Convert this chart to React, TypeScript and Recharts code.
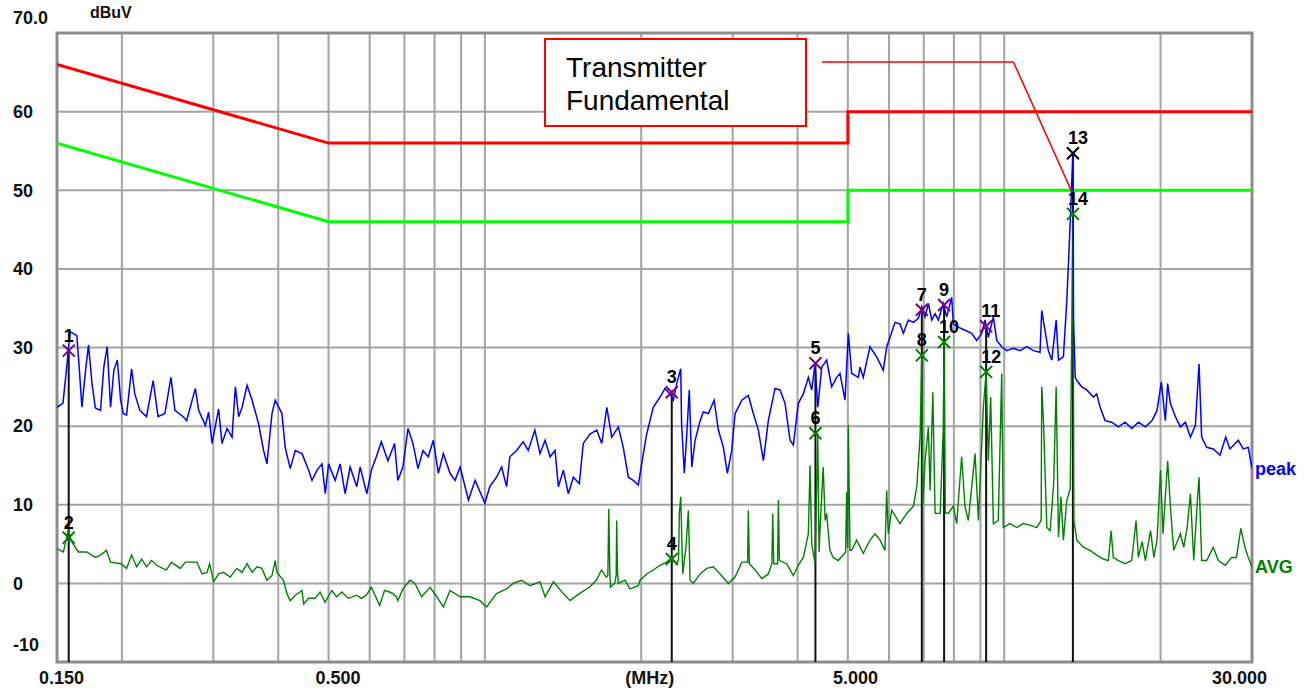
import { ComposedChart, Line, Scatter, XAxis, YAxis, CartesianGrid, ReferenceLine, ReferenceArea } from 'recharts';

// frequency (MHz), level (dBuV)
const peakTrace: [number, number][] = [
  [0.150, 22.4], [0.154, 22.9], [0.1566, 27.5], [0.1589, 32.0], [0.1611, 31.8], [0.1638, 31.5], [0.1655, 27.5],
  [0.1675, 22.4], [0.1705, 27.5], [0.1725, 30.3], [0.1752, 25.4], [0.1778, 22.3], [0.1819, 22.0], [0.1846, 27.5],
  [0.1874, 30.1], [0.1902, 22.4], [0.193, 27.1], [0.196, 28.4], [0.1989, 23.3], [0.2012, 21.6], [0.2042, 21.4],
  [0.2088, 27.3], [0.2118, 24.1], [0.2166, 22.0], [0.2231, 21.2], [0.2297, 25.8], [0.2348, 21.2], [0.242, 21.6],
  [0.2486, 26.2], [0.253, 22.0], [0.2625, 21.2], [0.2665, 20.7], [0.277, 24.8], [0.2811, 22.0], [0.2896, 20.1],
  [0.2938, 21.8], [0.2983, 17.8], [0.3071, 22.2], [0.3117, 17.8], [0.3188, 19.7], [0.3259, 18.6], [0.3308, 25.0],
  [0.3357, 21.2], [0.3408, 22.4], [0.3484, 25.2], [0.3563, 23.3], [0.3666, 20.3], [0.3749, 16.9], [0.3805, 15.2],
  [0.3891, 21.6], [0.3947, 23.3], [0.4066, 21.6], [0.4126, 17.3], [0.4219, 14.6], [0.4314, 16.9], [0.4445, 16.5],
  [0.4578, 14.4], [0.4647, 13.1], [0.4751, 14.4], [0.4857, 15.2], [0.4928, 11.4], [0.5, 15.2], [0.5148, 13.1],
  [0.5264, 15.2], [0.5381, 11.4], [0.5502, 14.8], [0.5667, 12.3], [0.5751, 14.8], [0.5924, 11.4], [0.6045, 14.4],
  [0.618, 16.1], [0.6318, 18.0], [0.6506, 15.6], [0.67, 17.8], [0.6799, 13.1], [0.6952, 14.8], [0.7111, 19.7],
  [0.727, 17.8], [0.7433, 14.6], [0.76, 16.9], [0.7779, 16.1], [0.7957, 18.2], [0.8135, 14.0], [0.8318, 16.5],
  [0.8569, 14.0], [0.8761, 13.1], [0.896, 14.8], [0.9297, 10.6], [0.9578, 13.1], [1.0, 10.2], [1.022, 12.3],
  [1.053, 13.5], [1.077, 14.8], [1.101, 12.3], [1.117, 16.1], [1.151, 16.9], [1.185, 18.0], [1.212, 16.9],
  [1.248, 19.5], [1.277, 16.5], [1.306, 18.2], [1.335, 16.1], [1.365, 16.9], [1.385, 12.3], [1.416, 14.4],
  [1.448, 11.4], [1.48, 13.5], [1.52, 12.7], [1.547, 17.8], [1.594, 19.0], [1.642, 19.5], [1.679, 17.8],
  [1.717, 22.4], [1.755, 18.6], [1.807, 19.9], [1.847, 17.3], [1.889, 13.5], [1.931, 13.1], [1.974, 12.5],
  [2.019, 16.5], [2.049, 19.0], [2.11, 22.4], [2.174, 23.7], [2.223, 24.8], [2.272, 24.1], [2.306, 23.3],
  [2.341, 25.4], [2.383, 27.3], [2.392, 20.3], [2.421, 14.0], [2.447, 18.8], [2.475, 24.6], [2.503, 14.8],
  [2.54, 18.2], [2.597, 20.7], [2.634, 21.8], [2.694, 21.6], [2.763, 23.3], [2.816, 19.5], [2.879, 17.3],
  [2.93, 14.0], [2.988, 16.9], [3.032, 21.6], [3.124, 23.3], [3.216, 23.9], [3.288, 21.6], [3.362, 19.5],
  [3.438, 15.6], [3.514, 20.7], [3.62, 24.8], [3.701, 24.6], [3.784, 22.9], [3.869, 18.2], [3.926, 17.6],
  [4.014, 22.9], [4.104, 24.1], [4.196, 26.2], [4.26, 24.6], [4.323, 28.0], [4.375, 22.4], [4.453, 27.5],
  [4.551, 28.4], [4.653, 25.0], [4.758, 26.2], [4.828, 26.7], [4.936, 23.3], [5.01, 31.8], [5.085, 26.7],
  [5.236, 26.2], [5.276, 27.5], [5.353, 26.2], [5.514, 30.1], [5.681, 28.8], [5.85, 27.1], [5.939, 30.1],
  [6.027, 31.3], [6.162, 33.2], [6.3, 33.0], [6.393, 31.8], [6.538, 33.5], [6.685, 33.2], [6.835, 33.7],
  [6.938, 35.2], [7.041, 33.9], [7.144, 35.6], [7.252, 33.5], [7.36, 34.3], [7.468, 33.5], [7.633, 35.6],
  [7.749, 33.9], [7.922, 36.4], [7.98, 33.0], [8.158, 32.6], [8.403, 32.2], [8.657, 31.8], [8.853, 30.9],
  [9.05, 31.8], [9.185, 33.5], [9.32, 31.3], [9.53, 33.9], [9.675, 30.9], [9.89, 30.1], [10.11, 29.6],
  [10.41, 29.9], [10.73, 29.6], [11.05, 30.1], [11.38, 29.6], [11.72, 29.4], [11.81, 34.7], [11.98, 32.2],
  [12.16, 29.6], [12.35, 28.4], [12.59, 33.5], [12.72, 28.4], [13.0, 28.8], [13.2, 36.0], [13.33, 42.4],
  [13.56, 54.7], [13.6, 33.5], [13.7, 26.2], [13.8, 25.8], [14.1, 25.0], [14.42, 24.6], [14.85, 23.7],
  [15.07, 24.1], [15.3, 22.4], [15.64, 20.7], [16.11, 20.5], [16.59, 19.9], [17.09, 20.5], [17.6, 19.7],
  [18.13, 20.5], [18.7, 19.9], [19.26, 20.7], [19.69, 22.0], [20.07, 25.6], [20.43, 20.7], [20.64, 25.4],
  [20.89, 22.9], [21.36, 21.2], [21.84, 19.9], [22.33, 20.5], [22.83, 18.6], [23.34, 20.1], [23.72, 27.9],
  [24.0, 18.6], [24.54, 17.3], [25.27, 17.1], [26.03, 16.3], [26.7, 18.6], [27.21, 17.1], [28.23, 18.2],
  [28.86, 17.1], [29.51, 17.3], [30.0, 14.6],
];

const avgTrace: [number, number][] = [
  [0.150, 4.4], [0.1543, 4.0], [0.1577, 6.7], [0.1601, 5.3], [0.1649, 4.0], [0.1711, 4.0], [0.1778, 3.3],
  [0.1819, 3.6], [0.1868, 4.2], [0.1902, 2.7], [0.1994, 2.5], [0.2042, 1.9], [0.2088, 3.6], [0.2135, 2.1],
  [0.2183, 3.1], [0.2231, 2.1], [0.2281, 2.9], [0.2332, 2.3], [0.2436, 1.7], [0.2491, 2.7], [0.2592, 1.9],
  [0.265, 2.7], [0.2791, 2.7], [0.2853, 1.2], [0.2917, 1.4], [0.2951, 2.5], [0.3004, 0.2], [0.3071, 1.2],
  [0.3139, 1.4], [0.3233, 0.8], [0.333, 1.9], [0.3408, 1.4], [0.3484, 2.5], [0.3563, 1.4], [0.364, 2.1],
  [0.3721, 1.9], [0.3805, 0.4], [0.3891, 1.0], [0.3947, 2.9], [0.3977, 1.4], [0.4095, 0.4], [0.4157, -1.3],
  [0.4219, -2.2], [0.4314, -1.5], [0.4445, -0.9], [0.4478, -2.6], [0.4578, -1.9], [0.4709, -1.9], [0.4815, -1.1],
  [0.4923, -2.4], [0.5071, -0.9], [0.5185, -1.7], [0.5301, -1.1], [0.5458, -1.9], [0.5665, -1.5], [0.5783, -1.9],
  [0.5913, -1.5], [0.6045, -0.5], [0.627, -2.8], [0.641, -0.9], [0.6553, -1.1], [0.665, -1.3], [0.675, -1.7],
  [0.6799, -2.2], [0.6952, -0.7], [0.7173, 0.4], [0.7334, 0.0], [0.7555, -1.7], [0.7841, -0.5], [0.8078, -1.7],
  [0.8318, -3.0], [0.8569, -0.9], [0.896, -1.7], [0.9356, -1.7], [0.9781, -2.2], [1.0076, -3.0], [1.053, -1.3],
  [1.101, -0.7], [1.134, 0.0], [1.177, 0.4], [1.221, -0.3], [1.277, 0.2], [1.306, -1.7], [1.355, 0.2],
  [1.416, -1.3], [1.459, -2.2], [1.52, -1.3], [1.59, -0.5], [1.639, 0.4], [1.677, 1.7], [1.714, 0.8],
  [1.725, 1.0], [1.732, 9.5], [1.74, 1.5], [1.745, -0.5], [1.778, 0.0], [1.79, 1.0], [1.794, 8.0],
  [1.8, 1.5], [1.807, 0.0], [1.861, 0.4], [1.903, -0.7], [1.974, -0.3], [1.99, 0.4], [2.049, 1.2],
  [2.11, 1.7], [2.174, 2.3], [2.238, 2.7], [2.289, 3.3], [2.341, 2.5], [2.36, 3.0], [2.368, 8.9],
  [2.383, 11.0], [2.404, 1.2], [2.439, 4.6], [2.465, 9.3], [2.484, 0.4], [2.52, 0.0], [2.597, 1.2],
  [2.674, 1.9], [2.754, 2.1], [2.837, 1.2], [2.943, 0.0], [3.032, 0.8], [3.124, 2.7], [3.205, 2.7],
  [3.216, 9.3], [3.23, 2.5], [3.315, 1.7], [3.414, 0.6], [3.514, 1.2], [3.57, 2.5], [3.583, 8.9],
  [3.6, 2.5], [3.66, 2.5], [3.674, 10.6], [3.69, 2.9], [3.811, 2.5], [3.926, 1.0], [4.014, 2.3],
  [4.104, 3.3], [4.196, 6.3], [4.228, 15.0], [4.26, 5.0], [4.323, 2.5], [4.375, 19.1], [4.4, 4.0],
  [4.418, 6.7], [4.482, 14.8], [4.52, 8.0], [4.551, 8.9], [4.617, 4.2], [4.685, 3.3], [4.789, 2.9],
  [4.899, 3.6], [4.95, 4.0], [4.973, 11.6], [4.995, 4.5], [5.01, 20.1], [5.047, 4.2], [5.085, 4.2],
  [5.199, 5.5], [5.353, 3.8], [5.514, 5.5], [5.639, 6.3], [5.767, 5.5], [5.894, 4.2], [5.939, 11.8],
  [5.98, 6.3], [6.072, 9.3], [6.3, 7.6], [6.492, 8.9], [6.685, 9.8], [6.786, 12.3], [6.886, 18.6],
  [6.94, 29.0], [6.97, 10.0], [7.041, 15.6], [7.144, 19.9], [7.199, 11.8], [7.287, 24.3], [7.36, 8.9],
  [7.528, 8.9], [7.63, 19.5], [7.66, 30.7], [7.7, 9.0], [7.8, 8.9], [7.98, 9.8], [8.1, 7.6], [8.28, 16.1],
  [8.403, 9.8], [8.528, 8.0], [8.787, 16.5], [8.92, 8.0], [9.117, 22.4], [9.228, 26.9], [9.32, 15.6],
  [9.418, 23.7], [9.53, 7.6], [9.74, 8.0], [9.89, 26.7], [9.96, 7.1], [10.26, 7.6], [10.57, 7.1],
  [10.88, 7.6], [11.21, 7.4], [11.55, 7.1], [11.78, 8.0], [11.81, 25.0], [11.9, 20.7], [12.08, 7.1],
  [12.26, 6.7], [12.45, 12.7], [12.59, 25.0], [12.72, 5.9], [12.86, 11.0], [13.0, 5.5], [13.2, 10.6],
  [13.4, 12.0], [13.56, 47.0], [13.62, 8.0], [13.8, 5.5], [14.2, 4.6], [14.63, 4.2], [15.07, 3.6],
  [15.52, 3.1], [15.87, 2.9], [16.06, 6.7], [16.22, 3.3], [16.59, 2.9], [17.09, 2.5], [17.6, 2.9],
  [17.94, 8.0], [18.13, 3.3], [18.43, 5.3], [18.7, 2.9], [19.13, 6.7], [19.42, 3.3], [19.69, 5.5],
  [20.0, 14.4], [20.22, 6.3], [20.64, 15.6], [20.89, 9.8], [21.2, 4.2], [21.84, 6.3], [22.17, 4.6],
  [22.5, 7.1], [22.83, 11.4], [23.17, 2.9], [23.52, 10.1], [23.72, 13.5], [24.0, 2.9], [24.54, 2.9],
  [25.27, 4.6], [25.84, 2.9], [26.65, 2.3], [27.42, 3.3], [28.0, 3.3], [28.55, 7.0], [29.08, 4.6],
  [29.51, 3.3], [30.0, 2.1],
];

// limit lines
const qpLimit: [number, number][] = [[0.15, 66], [0.5, 56], [5, 56], [5, 60], [30, 60]];
const avLimit: [number, number][] = [[0.15, 56], [0.5, 46], [5, 46], [5, 50], [30, 50]];

// markers: number, frequency, level
const peakMarkers: [number, number, number][] = [
  [1, 0.158, 29.6], [3, 2.29, 24.3], [5, 4.33, 28.0], [7, 6.94, 34.8], [9, 7.66, 35.4], [11, 9.23, 32.7], [13, 13.56, 54.7],
];
const avgMarkers: [number, number, number][] = [
  [2, 0.158, 5.8], [4, 2.29, 3.1], [6, 4.33, 19.1], [8, 6.94, 29.0], [10, 7.66, 30.7], [12, 9.23, 26.9], [14, 13.56, 47.0],
];

// callout leader: box edge -> knee -> fundamental
const leader: [number, number][] = [[4.46, 66.3], [10.42, 66.3], [13.56, 49.5]];

const xTicks = [0.15, 0.2, 0.3, 0.4, 0.5, 0.6, 0.7, 0.8, 0.9, 1, 2, 3, 4, 5, 6, 7, 8, 9, 10, 20, 30];
const yTicks = [-10, 0, 10, 20, 30, 40, 50, 60, 70];

const toPts = (a: [number, number][]) => a.map(([f, v]) => ({ f, v }));
const peakData = toPts(peakTrace);
const avgData = toPts(avgTrace);
const mk = (a: [number, number, number][]) => a.map(([n, f, v]) => ({ n, f, v }));

const FONT = '"Liberation Sans", Arial, sans-serif';

const XTick = ({ x, payload }: any) => {
  const v = payload.value;
  const spec: Record<number, [string, number, 'start' | 'end']> = {
    0.15: ['0.150', -18, 'start'],
    0.5: ['0.500', -13, 'start'],
    2: ['(MHz)', -16, 'start'],
    5: ['5.000', -15, 'start'],
    30: ['30.000', 15, 'end'],
  };
  const s = spec[v];
  if (!s) return <g />;
  return (
    <text x={x + s[1]} y={684} textAnchor={s[2]} fontFamily={FONT} fontWeight="bold" fontSize={18} fill="#111">{s[0]}</text>
  );
};

const YTick = ({ y, payload }: any) => {
  const v = payload.value;
  const label = v === 70 ? '70.0' : String(v);
  const dy = v === 70 ? -15 : v === -10 ? -17 : 0;
  return (
    <text x={13} y={y + dy} dy="0.35em" textAnchor="start" fontFamily={FONT} fontWeight="bold" fontSize={18} fill="#111">{label}</text>
  );
};

const markerShape = (kind: 'peak' | 'avg') => (props: any) => {
  const { cx, cy, payload } = props;
  const color = kind === 'avg' ? '#008000' : payload.n === 13 ? '#000' : '#800080';
  return (
    <g>
      <path d={`M${cx - 6},${cy - 6}L${cx + 6},${cy + 6}M${cx + 6},${cy - 6}L${cx - 6},${cy + 6}`} stroke={color} strokeWidth={2} />
      <text x={cx - 5} y={cy - 9} fontFamily={FONT} fontWeight="bold" fontSize={18} fill="#000">{payload.n}</text>
    </g>
  );
};

const endLabel = (text: string, color: string, last: number) => (props: any) => {
  if (props.index !== last) return <g />;
  return (
    <text x={props.x + 3} y={props.y} dy="0.35em" fontFamily={FONT} fontWeight="bold" fontSize={18} fill={color}>{text}</text>
  );
};

export default function App() {
  return (
    <div style={{ position: 'absolute', left: 0, top: 0, width: 1309, height: 692, background: '#fff' }}>
      <ComposedChart width={1309} height={692} margin={{ top: 33, right: 57, bottom: 0, left: 0 }}>
        <CartesianGrid stroke="#a4a4a4" strokeWidth={2} horizontalValues={yTicks} verticalValues={xTicks} />
        <XAxis dataKey="f" type="number" scale="log" domain={[0.15, 30]} allowDataOverflow ticks={xTicks} interval={0}
          axisLine={false} tickLine={false} height={30} tick={<XTick />} />
        <YAxis type="number" domain={[-10, 70]} allowDataOverflow ticks={yTicks} interval={0}
          axisLine={false} tickLine={false} width={57} tick={<YTick />} />
        <ReferenceArea x1={0.15} x2={30} y1={-10} y2={70} fill="none" stroke="#8c8c8c" strokeWidth={3} />
        {peakMarkers.map(([n, f, v]) => (
          <ReferenceLine key={n} segment={[{ x: f, y: v }, { x: f, y: -10 }]} stroke="#111" strokeWidth={2} />
        ))}
        <Line data={toPts(qpLimit)} dataKey="v" type="linear" stroke="#ff0000" strokeWidth={3} dot={false} isAnimationActive={false} />
        <Line data={toPts(avLimit)} dataKey="v" type="linear" stroke="#00ff00" strokeWidth={3} dot={false} isAnimationActive={false} />
        <Line data={avgData} dataKey="v" type="linear" stroke="#008000" strokeWidth={1.4} dot={false} isAnimationActive={false}
          label={endLabel('AVG', '#008000', avgData.length - 1)} />
        <Line data={peakData} dataKey="v" type="linear" stroke="#0000ff" strokeWidth={1.5} dot={false} isAnimationActive={false}
          label={endLabel('peak', '#0000ff', peakData.length - 1)} />
        <Scatter data={mk(avgMarkers)} dataKey="v" shape={markerShape('avg')} isAnimationActive={false} />
        <Scatter data={mk(peakMarkers)} dataKey="v" shape={markerShape('peak')} isAnimationActive={false} />
        <ReferenceLine segment={[{ x: leader[0][0], y: leader[0][1] }, { x: leader[1][0], y: leader[1][1] }]} stroke="#ff0000" strokeWidth={1.5} />
        <ReferenceLine segment={[{ x: leader[1][0], y: leader[1][1] }, { x: leader[2][0], y: leader[2][1] }]} stroke="#ff0000" strokeWidth={1.5} />
      </ComposedChart>
      <div style={{ position: 'absolute', left: 90, top: 4, fontFamily: FONT, fontWeight: 'bold', fontSize: 16, color: '#111' }}>dBuV</div>
      <div style={{
        position: 'absolute', left: 544, top: 38, width: 263, height: 89, boxSizing: 'border-box',
        border: '2px solid #ff0000', background: '#fff', padding: '11px 0 0 20px',
        fontFamily: FONT, fontSize: 28, lineHeight: '33px', color: '#000',
      }}>
        Transmitter<br />Fundamental
      </div>
    </div>
  );
}
